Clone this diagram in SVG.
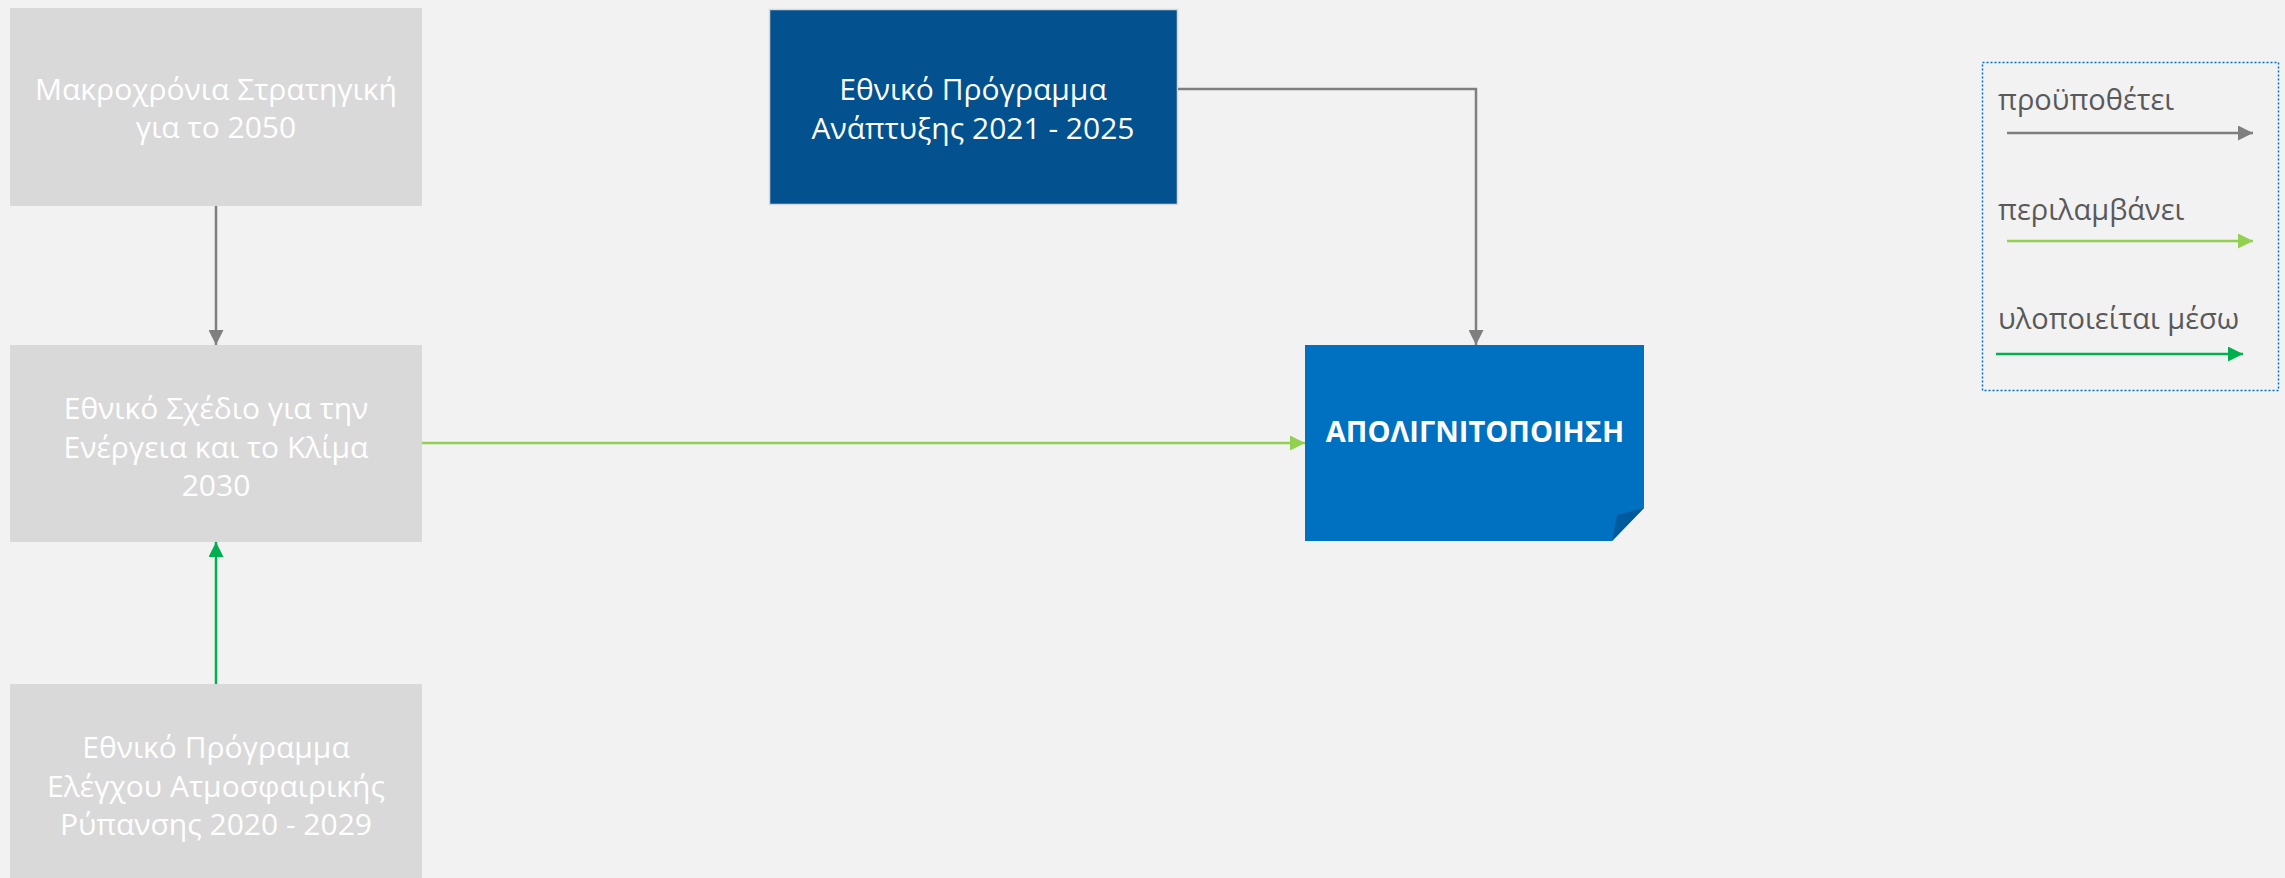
<svg xmlns="http://www.w3.org/2000/svg" width="2285" height="878" viewBox="0 0 2285 878">
<defs>
<style>
.box{fill:#d9d9d9}
.t{font-family:"Open Sans","Liberation Sans",sans-serif;font-size:30px;fill:#ffffff;text-anchor:middle}
.tb{font-family:"Open Sans","Liberation Sans",sans-serif;font-size:29px;font-weight:bold;fill:#ffffff;text-anchor:middle}
.lg{font-family:"Open Sans","Liberation Sans",sans-serif;font-size:29px;fill:#595959}
.gray{stroke:#7f7f7f;stroke-width:2.5;fill:none}
.lgreen{stroke:#92d050;stroke-width:2.5;fill:none}
.dgreen{stroke:#00b050;stroke-width:2.5;fill:none}
</style>
<marker id="aGray" markerWidth="15" markerHeight="15" refX="15" refY="7.5" orient="auto" markerUnits="userSpaceOnUse"><path d="M0,0 L15,7.5 L0,15 Z" fill="#7f7f7f"/></marker>
<marker id="aLGreen" markerWidth="15" markerHeight="15" refX="15" refY="7.5" orient="auto" markerUnits="userSpaceOnUse"><path d="M0,0 L15,7.5 L0,15 Z" fill="#92d050"/></marker>
<marker id="aDGreen" markerWidth="15" markerHeight="15" refX="15" refY="7.5" orient="auto" markerUnits="userSpaceOnUse"><path d="M0,0 L15,7.5 L0,15 Z" fill="#00b050"/></marker>
</defs>
<rect x="0" y="0" width="2285" height="878" fill="#f2f2f2"/>

<g id="n-strategy">
<rect class="box" x="10" y="8" width="412" height="198"/>
<text class="t" x="216" y="100">Μακροχρόνια Στρατηγική</text>
<text class="t" x="216" y="138">για το 2050</text>
</g>

<g id="n-esek">
<rect class="box" x="10" y="345" width="412" height="197"/>
<text class="t" x="216" y="419">Εθνικό Σχέδιο για την</text>
<text class="t" x="216" y="458">Ενέργεια και το Κλίμα</text>
<text class="t" x="216" y="496">2030</text>
</g>

<g id="n-air">
<rect class="box" x="10" y="684" width="412" height="200"/>
<text class="t" x="216" y="758">Εθνικό Πρόγραμμα</text>
<text class="t" x="216" y="797">Ελέγχου Ατμοσφαιρικής</text>
<text class="t" x="216" y="835">Ρύπανσης 2020 - 2029</text>
</g>

<g id="n-dev">
<rect x="769.5" y="9.5" width="408" height="195" fill="#03518e" stroke="#d9d9d9" stroke-width="1.5"/>
<text class="t" x="973" y="100">Εθνικό Πρόγραμμα</text>
<text class="t" x="973" y="139">Ανάπτυξης 2021 - 2025</text>
</g>

<g id="n-delignite">
<path d="M1305,345 H1644 V508 L1612,541 H1305 Z" fill="#0070c0"/>
<path d="M1644,508 L1617,515 L1612,541 Z" fill="#005a9e"/>
<text class="tb" x="1475" y="442">ΑΠΟΛΙΓΝΙΤΟΠΟΙΗΣΗ</text>
</g>

<g id="connectors">
<path class="gray" d="M216,206 V345" marker-end="url(#aGray)"/>
<path class="dgreen" d="M216,684 V542" marker-end="url(#aDGreen)"/>
<path class="lgreen" d="M422,443 H1305" marker-end="url(#aLGreen)"/>
<path class="gray" d="M1178,89 H1476 V345" marker-end="url(#aGray)"/>
</g>

<g id="legend">
<rect x="1982.5" y="62.5" width="296" height="328" fill="none" stroke="#0070c0" stroke-width="1.5" stroke-dasharray="2,2"/>
<text class="lg" x="1998" y="110">προϋποθέτει</text>
<path class="gray" d="M2007,133 H2253" marker-end="url(#aGray)"/>
<text class="lg" x="1998" y="220">περιλαμβάνει</text>
<path class="lgreen" d="M2007,241 H2253" marker-end="url(#aLGreen)"/>
<text class="lg" x="1998" y="329">υλοποιείται μέσω</text>
<path class="dgreen" d="M1996,354 H2243" marker-end="url(#aDGreen)"/>
</g>
</svg>
